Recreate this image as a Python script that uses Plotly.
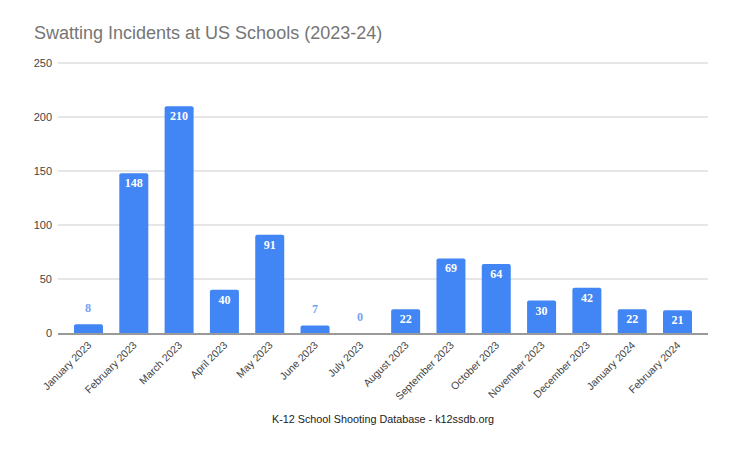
import plotly.graph_objs as go

months = ['January 2023', 'February 2023', 'March 2023', 'April 2023', 'May 2023',
          'June 2023', 'July 2023', 'August 2023', 'September 2023', 'October 2023',
          'November 2023', 'December 2023', 'January 2024', 'February 2024']
incidents = [8, 148, 210, 40, 91, 7, 0, 22, 69, 64, 30, 42, 22, 21]
y_ticks = [0, 50, 100, 150, 200, 250]

BLUE = '#4285F4'
# these bars are too short to hold their label, so it floats above them
small_limit = 10

# the page puts an 8px body margin around the figure
WIDTH = 736
HEIGHT = 446

bars = go.Bar(
    x=months,
    y=incidents,
    width=0.64,
    marker=dict(color=BLUE, line=dict(width=0), cornerradius=2),
    text=[str(v) if v > small_limit else '' for v in incidents],
    textposition='inside',
    insidetextanchor='end',
    textangle=0,
    textfont=dict(family='Liberation Serif', size=12, color='#ffffff', weight='bold'),
    cliponaxis=False,
)

notes = []
for month, value in zip(months, incidents):
    if value <= small_limit:
        notes.append(dict(
            x=month, y=value, text=str(value), showarrow=False, yshift=16,
            font=dict(family='Liberation Serif', size=12, color='#6FA3F7', weight='bold'),
        ))

layout = go.Layout(
    width=WIDTH,
    height=HEIGHT,
    margin=dict(l=50, r=36, t=53, b=121),
    paper_bgcolor='white',
    plot_bgcolor='white',
    showlegend=False,
    font=dict(family='Liberation Sans'),
    title=dict(
        text='Swatting Incidents at US Schools (2023-24)',
        x=26 / WIDTH,
        xanchor='left',
        y=1 - 25 / HEIGHT,
        yanchor='middle',
        font=dict(size=18, color='#757575'),
    ),
    xaxis=dict(
        type='category',
        range=[-0.673, 13.673],
        tickangle=-45,
        tickfont=dict(size=10.5, color='#444444'),
        ticks='',
        showline=True,
        linecolor='#999999',
        linewidth=1.5,
        showgrid=False,
        title=dict(
            text='K-12 School Shooting Database - k12ssdb.org',
            font=dict(size=10.8, color='#222222'),
            standoff=14,
        ),
        automargin=False,
    ),
    yaxis=dict(
        # plotly skips grid lines within 1px of the plot edge, so the range
        # runs 2px past 250 (with the top margin 2px smaller to make up for it)
        range=[0, 251.85],
        tickvals=y_ticks,
        tickfont=dict(size=11, color='#444444'),
        gridcolor='#E6E6E6',
        gridwidth=1.5,
        zeroline=False,
        ticks='',
        ticklen=0,
        ticklabelstandoff=5,
        automargin=False,
    ),
    annotations=notes,
)

fig = go.Figure(data=[bars], layout=layout)
fig.write_html('out.html')
